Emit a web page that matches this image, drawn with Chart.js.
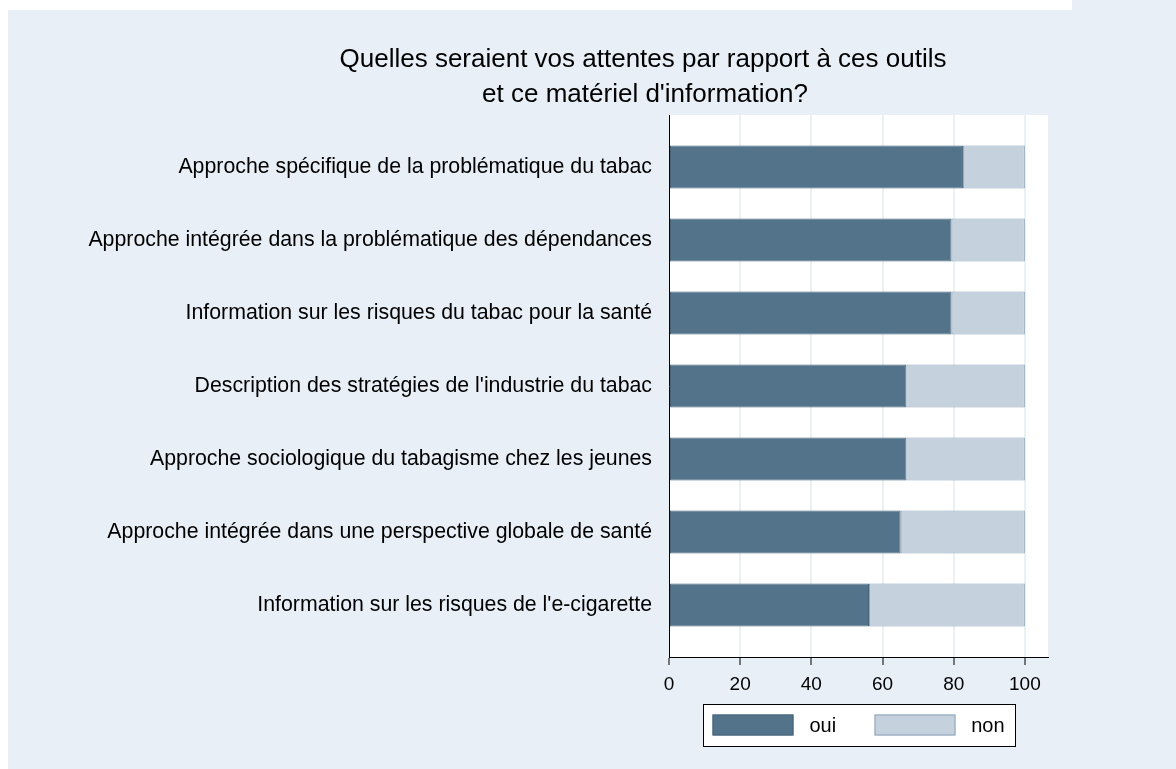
<!DOCTYPE html>
<html>
<head>
<meta charset="utf-8">
<script src="https://cdn.jsdelivr.net/npm/chart.js@4/dist/chart.umd.min.js"></script>
<style>
  html, body { margin: 0; padding: 0; background: #ffffff; }
  #wrap { width: 1176px; height: 769px; position: relative; }
</style>
</head>
<body>
<div id="wrap"><canvas id="c" width="1176" height="769"></canvas></div>
<script>
const titleLines = ["Quelles seraient vos attentes par rapport à ces outils", "et ce matériel d'information?"];
const categories = [
  "Approche spécifique de la problématique du tabac",
  "Approche intégrée dans la problématique des dépendances",
  "Information sur les risques du tabac pour la santé",
  "Description des stratégies de l'industrie du tabac",
  "Approche sociologique du tabagisme chez les jeunes",
  "Approche intégrée dans une perspective globale de santé",
  "Information sur les risques de l'e-cigarette"
];
const oui = [82.6, 79.4, 79.4, 66.7, 66.7, 65.1, 56.2];
const non = [17.4, 20.6, 20.6, 33.3, 33.3, 34.9, 43.8];
const seriesNames = ["oui", "non"];
const xTicks = [0, 20, 40, 60, 80, 100];

const FONT = "'Liberation Sans', Arial, Helvetica, sans-serif";
const BG = "#e8eff7";

const bgPlugin = {
  id: 'bg',
  beforeDraw(chart) {
    const ctx = chart.ctx;
    const a = chart.chartArea;
    ctx.save();
    ctx.fillStyle = '#ffffff';
    ctx.fillRect(0, 0, chart.width, chart.height);
    ctx.fillStyle = BG;
    ctx.fillRect(8, 10, chart.width - 8, chart.height - 10);
    ctx.fillRect(1072, 0, chart.width - 1072, 10);
    ctx.fillStyle = '#ffffff';
    ctx.fillRect(a.left, a.top, a.right - a.left, a.bottom - a.top);
    ctx.restore();
  },
  afterDraw(chart) {
    const ctx = chart.ctx;
    const a = chart.chartArea;
    ctx.save();
    // title
    ctx.fillStyle = '#000';
    ctx.font = "26px " + FONT;
    ctx.textAlign = 'center';
    ctx.textBaseline = 'alphabetic';
    ctx.fillText(titleLines[0], 643, 67);
    ctx.fillText(titleLines[1], 645, 102);
    // legend
    const cx = (a.left + a.right) / 2;
    const lw = 312, lh = 42;
    const lx = Math.round(cx - lw / 2) + 0.5, ly = 704.5;
    ctx.fillStyle = '#ffffff';
    ctx.fillRect(lx, ly, lw, lh);
    ctx.strokeStyle = '#000';
    ctx.lineWidth = 1;
    ctx.strokeRect(lx, ly, lw, lh);
    const ds = chart.data.datasets;
    const swX = [lx + 9, lx + 171];
    const txX = [lx + 106, lx + 267];
    ctx.font = "20px " + FONT;
    ctx.textBaseline = 'middle';
    for (let i = 0; i < ds.length; i++) {
      ctx.fillStyle = ds[i].backgroundColor;
      ctx.fillRect(swX[i], ly + 10, 81, 21);
      ctx.strokeStyle = ds[i].borderColor;
      ctx.strokeRect(swX[i] + 0.5, ly + 10 + 0.5, 80, 20);
      ctx.fillStyle = '#000';
      ctx.textAlign = i === 0 ? 'left' : 'right';
      ctx.fillText(ds[i].label, i === 0 ? txX[i] : txX[i] + 34, ly + lh / 2 + 1);
    }
    ctx.restore();
  }
};

new Chart(document.getElementById('c'), {
  type: 'bar',
  data: {
    datasets: [
      {
        label: seriesNames[0],
        data: oui.map((v, i) => ({ x: v, y: i })),
        backgroundColor: 'rgb(82,115,138)',
        borderColor: 'rgb(70,100,122)',
        borderWidth: 1,
        borderSkipped: false,
        stack: 's',
        barPercentage: 0.59,
        categoryPercentage: 1
      },
      {
        label: seriesNames[1],
        data: non.map((v, i) => ({ x: v, y: i })),
        backgroundColor: 'rgb(197,210,222)',
        borderColor: 'rgb(140,162,184)',
        borderWidth: 1,
        borderSkipped: false,
        stack: 's',
        barPercentage: 0.59,
        categoryPercentage: 1
      }
    ]
  },
  options: {
    indexAxis: 'y',
    responsive: false,
    animation: false,
    devicePixelRatio: 1,
    layout: { padding: { top: 115, right: 128, bottom: 62, left: 0 } },
    plugins: {
      legend: { display: false },
      title: { display: false },
      tooltip: { enabled: false }
    },
    scales: {
      x: {
        type: 'linear',
        stacked: true,
        min: 0,
        max: 106.5,
        afterBuildTicks(scale) { scale.ticks = xTicks.map(v => ({ value: v })); },
        afterFit(scale) { scale.height = 50; },
        grid: {
          color: 'rgb(234,241,245)',
          lineWidth: 2,
          tickColor: '#000',
          tickLength: 8,
          tickWidth: 1,
          drawOnChartArea: true
        },
        border: { display: true, color: '#000', width: 1 },
        ticks: {
          color: '#000',
          font: { family: FONT, size: 19 },
          padding: 8,
          maxRotation: 0
        }
      },
      y: {
        type: 'linear',
        reverse: true,
        offset: false,
        min: -0.7125,
        max: 6.7125,
        afterBuildTicks(scale) { scale.ticks = categories.map((c, i) => ({ value: i })); },
        afterFit(scale) { scale.width = 669; },
        grid: { display: false, drawTicks: false, offset: false },
        border: { display: true, color: '#000', width: 1 },
        ticks: {
          color: '#000',
          font: { family: FONT, size: 21.3 },
          padding: 17,
          callback: (v) => categories[v]
        }
      }
    }
  },
  plugins: [bgPlugin]
});
</script>
</body>
</html>
